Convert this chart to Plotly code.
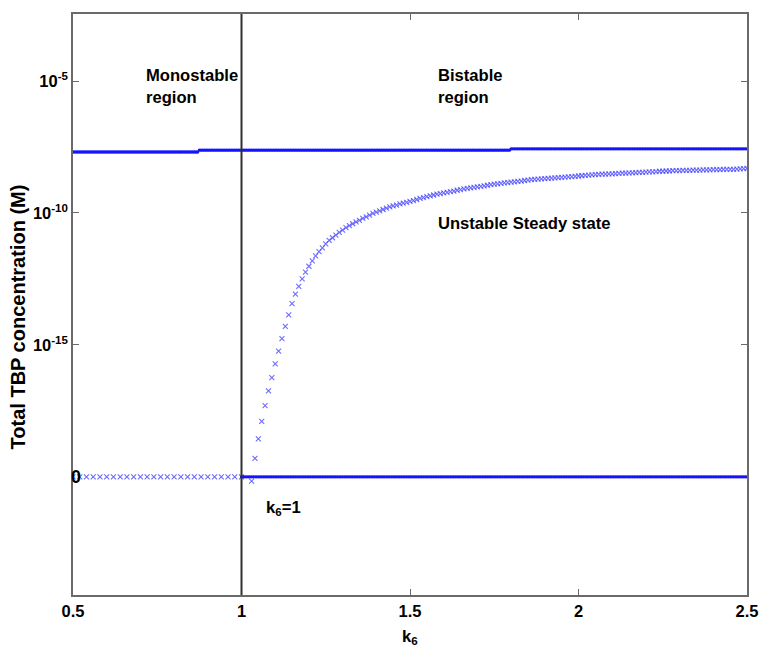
import numpy as np
import plotly.graph_objects as go

# ---------------------------------------------------------------
# Steady states of total TBP concentration versus k6
# ---------------------------------------------------------------

# Stable high branch, sampled every 0.005 in k6 from 0.5 to 2.5
k_stable = np.round(np.arange(0.5, 2.5 + 1e-9, 0.005), 3)
upper_counts = [75, 185, 141]                 # points per level
upper_levels = [2.04e-8, 2.40e-8, 2.69e-8]    # M

# Stable low branch (zero) appears from k6 = 1 onwards
lower_start = 1.0
lower_level = 0.0

# Unstable branch: zero for k6 <= 1 (sampled every 0.02) ...
k_unstable_low = np.round(np.arange(0.5, 1.0 + 1e-9, 0.02), 2)
unstable_low_level = 0.0

# ... then a rising branch from k6 = 1.03 in steps of 0.01 (log10 of M)
unstable_start, unstable_step = 1.03, 0.01
unstable_log10 = [
    -20.16, -19.30, -18.56, -17.90, -17.30, -16.74, -16.24, -15.72, -15.24, -14.76,
    -14.30, -13.86, -13.44, -13.08, -12.78, -12.50, -12.24, -12.02, -11.82, -11.63,
    -11.47, -11.32, -11.17, -11.04,
    -10.94, -10.84, -10.74, -10.65, -10.56, -10.48, -10.41, -10.34, -10.28, -10.21,
    -10.15, -10.08, -10.02, -9.97, -9.92, -9.87, -9.82, -9.77, -9.73, -9.70,
    -9.66, -9.63, -9.60,
    -9.56, -9.53, -9.49, -9.45, -9.42, -9.38, -9.35, -9.32, -9.29, -9.27,
    -9.24, -9.22, -9.19, -9.17, -9.14, -9.12, -9.09, -9.07, -9.05, -9.03,
    -9.01, -8.99, -8.97, -8.95, -8.93, -8.91, -8.90, -8.88, -8.86, -8.85,
    -8.83, -8.82, -8.80, -8.79, -8.77, -8.76, -8.74, -8.73, -8.72, -8.71,
    -8.70, -8.69, -8.68, -8.67, -8.66, -8.65, -8.64, -8.63, -8.62, -8.61,
    -8.60, -8.59, -8.58, -8.57, -8.56, -8.55, -8.54, -8.53, -8.53, -8.52,
    -8.52, -8.51, -8.50, -8.49, -8.49, -8.48, -8.48, -8.47, -8.46, -8.46,
    -8.45, -8.44, -8.44, -8.43, -8.42, -8.42, -8.41, -8.41, -8.40, -8.40,
    -8.40, -8.39, -8.39, -8.39, -8.38, -8.38, -8.38, -8.37, -8.37, -8.37,
    -8.36, -8.36, -8.36, -8.35, -8.35, -8.35, -8.35, -8.34, -8.33, -8.32,
    -8.31,
]

# Axis ticks
x_ticks = [0.5, 1, 1.5, 2, 2.5]
y_ticks = [1e-5, 1e-10, 1e-15]
y_tick_text = ["10<sup>-5</sup>", "10<sup>-10</sup>", "10<sup>-15</sup>"]

# Zero cannot sit on a log axis: draw it at this level, labelled "0"
ZERO_AT = 1e-20
Y_RANGE_LOG = [-24.48, -2.46]

# ---------------------------------------------------------------
def show(values):
    v = np.asarray(values, dtype=float)
    return np.where(v <= 0, ZERO_AT, v)

upper = np.repeat(upper_levels, upper_counts)
k_lower = k_stable[k_stable >= lower_start - 1e-9]
lower = np.full(len(k_lower), lower_level)
unstable_low = np.full(len(k_unstable_low), unstable_low_level)
k_unstable_high = np.round(unstable_start + unstable_step * np.arange(len(unstable_log10)), 2)
unstable_high = 10.0 ** np.asarray(unstable_log10)

STABLE_COLOR = "#1414ff"
UNSTABLE_COLOR = "rgba(60,60,255,0.75)"

FONT = "Liberation Sans, Arial, Helvetica, sans-serif"
text_font = dict(family=FONT, size=16.6, color="black", weight="bold")

fig = go.Figure()

stable_marker = dict(symbol="circle", size=3.3, color=STABLE_COLOR, line=dict(width=0))
unstable_marker = dict(symbol="x-thin-open", size=5, color=UNSTABLE_COLOR,
                       line=dict(width=1.1, color=UNSTABLE_COLOR))

fig.add_trace(go.Scatter(x=k_unstable_low, y=show(unstable_low), mode="markers",
                         marker=unstable_marker, name="unstable (zero)"))
fig.add_trace(go.Scatter(x=k_stable, y=show(upper), mode="markers",
                         marker=stable_marker, name="stable high"))
fig.add_trace(go.Scatter(x=k_lower, y=show(lower), mode="markers",
                         marker=stable_marker, name="stable low"))
fig.add_trace(go.Scatter(x=k_unstable_high, y=show(unstable_high), mode="markers",
                         marker=unstable_marker, name="unstable"))

# Boundary between the monostable and bistable regions
fig.add_shape(type="line", xref="x", yref="paper", x0=1, x1=1, y0=0, y1=1,
              line=dict(color="#303030", width=2))

annotations = [
    dict(text="Monostable<br>region", x=0.712, y=0.876, xanchor="left", yanchor="middle", align="left"),
    dict(text="Bistable<br>region", x=1.576, y=0.876, xanchor="left", yanchor="middle", align="left"),
    dict(text="Unstable Steady state", x=1.576, y=0.639, xanchor="left", yanchor="middle", align="left"),
    dict(text="k<sub>6</sub>=1", x=1.066, y=0.150, xanchor="left", yanchor="middle", align="left"),
    dict(text="k<sub>6</sub>", x=1.5, y=-0.072, xanchor="center", yanchor="middle", align="center"),
]
for a in annotations:
    fig.add_annotation(xref="x", yref="paper", showarrow=False, font=text_font, **a)

# "0" label for the zero level
fig.add_annotation(text="0", xref="paper", yref="y", x=0.005, y=np.log10(ZERO_AT),
                   xanchor="center", yanchor="middle", showarrow=False,
                   font=dict(family=FONT, size=18, color="black", weight="bold"))

# Vertical axis title
fig.add_annotation(text="Total TBP concentration (M)", xref="paper", yref="paper",
                   x=-0.082, y=0.479, textangle=-90, xanchor="center", yanchor="middle",
                   showarrow=False,
                   font=dict(family=FONT, size=20, color="black", weight="bold"))

axis_common = dict(showline=True, linecolor="#6a6a6a", linewidth=1.5, mirror="ticks",
                   ticks="inside", ticklen=6, tickcolor="#6a6a6a", tickwidth=1,
                   showgrid=False, zeroline=False, ticklabeloverflow="allow",
                   automargin=False,
                   tickfont=dict(family=FONT, size=16.5, color="black", weight="bold"))

fig.update_xaxes(range=[0.5, 2.5], tickvals=x_ticks, ticktext=[str(t) for t in x_ticks],
                 **axis_common)
fig.update_yaxes(type="log", range=Y_RANGE_LOG, tickvals=y_ticks, ticktext=y_tick_text,
                 **axis_common)

fig.update_layout(width=760, height=652, margin=dict(l=73, r=13, t=14, b=57),
                  paper_bgcolor="white", plot_bgcolor="white", showlegend=False)

fig.write_html("out.html")
